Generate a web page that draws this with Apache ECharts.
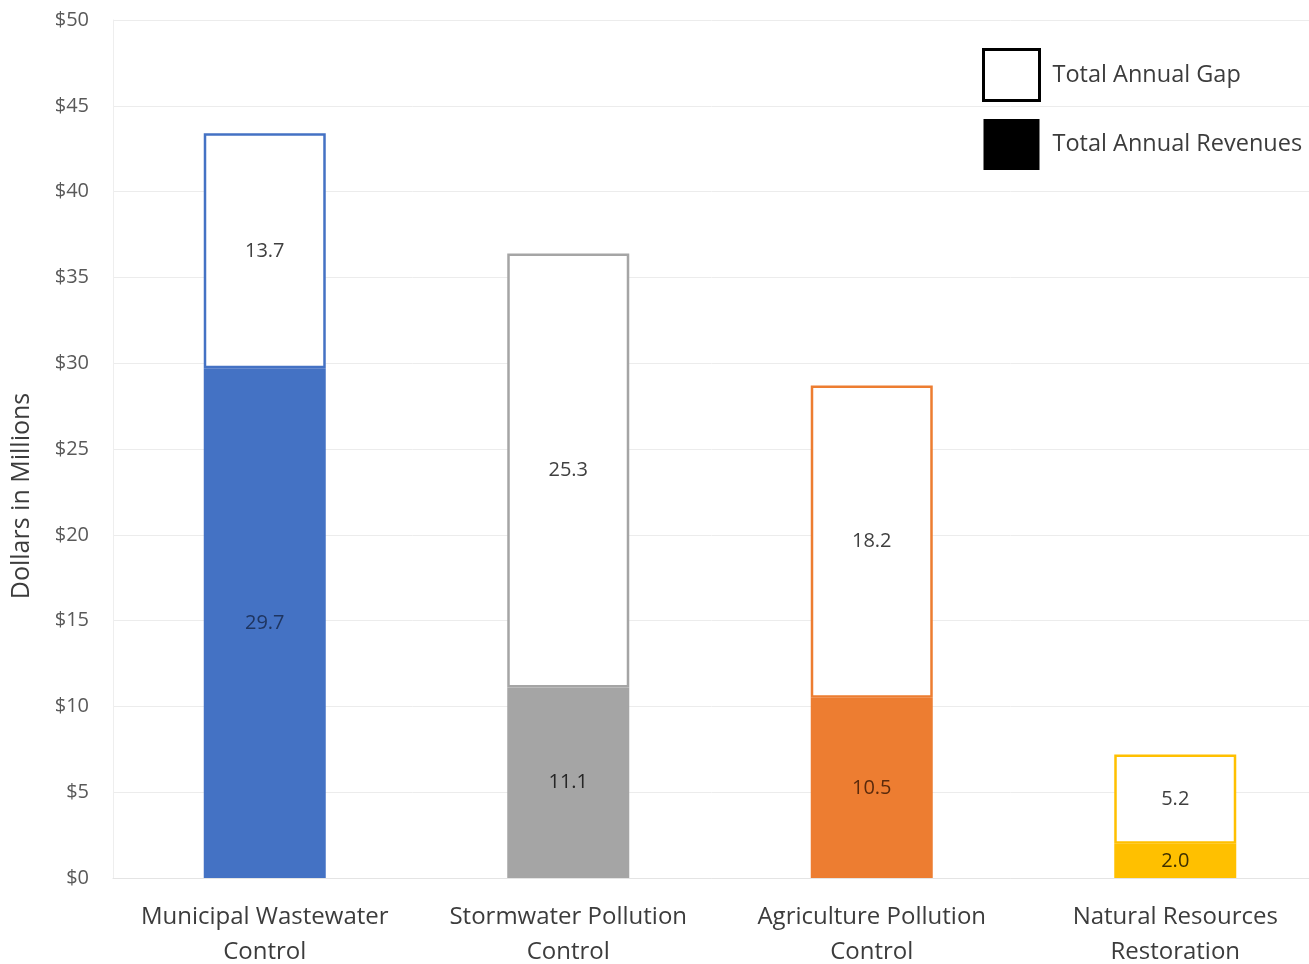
<!DOCTYPE html>
<html>
<head>
<meta charset="utf-8">
<script src="https://cdn.jsdelivr.net/npm/echarts@6/dist/echarts.min.js"></script>
<style>
  html, body { margin: 0; padding: 0; background: #fff; }
  #chart { width: 1309px; height: 964px; }
</style>
</head>
<body>
<div id="chart"></div>
<script>
// Program categories (two-line axis labels)
const categories = [
  'Municipal Wastewater\nControl',
  'Stormwater Pollution\nControl',
  'Agriculture Pollution\nControl',
  'Natural Resources\nRestoration'
];
// Annual revenues and remaining gap, in millions of dollars
const revenues = [29.7, 11.1, 10.5, 2.0];
const gaps = [13.7, 25.3, 18.2, 5.2];
// One colour per program
const programColors = ['#4472C4', '#A5A5A5', '#ED7D31', '#FFC000'];
const revenueLabelColors = ['#1f3560', '#262626', '#5a2a0c', '#3f3000'];

const FONT = '"Open Sans", Lato, sans-serif';

const chart = echarts.init(document.getElementById('chart'));
chart.setOption({
  animation: false,
  grid: { left: 113, right: -18, top: 20, bottom: 86, containLabel: false, outerBoundsMode: 'none' },
  legend: {
    orient: 'vertical',
    left: 982,
    top: 48,
    padding: 0,
    itemWidth: 56,
    itemHeight: 51,
    itemGap: 17,
    selectedMode: false,
    textStyle: { fontFamily: FONT, fontSize: 23.5, color: '#3c3c3c', padding: [0, 0, 0, 8] },
    data: [
      { name: 'Total Annual Gap', icon: 'rect', itemStyle: { color: '#ffffff', borderColor: '#000000', borderWidth: 3 } },
      { name: 'Total Annual Revenues', icon: 'rect', itemStyle: { color: '#000000', borderWidth: 0 } }
    ]
  },
  graphic: [{
    type: 'text',
    x: 22, y: 496,
    rotation: Math.PI / 2,
    style: {
      text: 'Dollars in Millions',
      font: '25px ' + FONT,
      fill: '#3c3c3c',
      align: 'center',
      verticalAlign: 'middle'
    }
  }],
  xAxis: {
    type: 'category',
    data: categories,
    axisLine: { show: true, lineStyle: { color: '#e4e4e4', width: 1 } },
    axisTick: { show: false },
    axisLabel: {
      fontFamily: FONT, fontSize: 24, color: '#3c3c3c',
      lineHeight: 35, margin: 22, interval: 0
    }
  },
  yAxis: {
    type: 'value',
    min: 0, max: 50, interval: 5,
    axisLine: { show: true, lineStyle: { color: '#eeeeee', width: 1 } },
    axisTick: { show: false },
    splitLine: { lineStyle: { color: '#ececec', width: 1 } },
    axisLabel: {
      fontFamily: FONT, fontSize: 20, color: '#595959', margin: 24,
      formatter: v => '$' + v
    }
  },
  series: [
    {
      name: 'Total Annual Revenues',
      type: 'bar',
      stack: 'total',
      barWidth: 122,
      data: revenues.map((v, i) => ({
        value: v,
        itemStyle: { color: programColors[i] },
        label: { color: revenueLabelColors[i] }
      })),
      label: {
        show: true, position: 'inside',
        fontFamily: FONT, fontSize: 20,
        formatter: p => p.value.toFixed(1)
      }
    },
    {
      name: 'Total Annual Gap',
      type: 'bar',
      stack: 'total',
      barWidth: 122,
      data: gaps.map((v, i) => ({
        value: v,
        itemStyle: { color: '#ffffff', borderColor: programColors[i], borderWidth: 2.5 }
      })),
      label: {
        show: true, position: 'inside',
        fontFamily: FONT, fontSize: 20, color: '#404040',
        formatter: p => p.value.toFixed(1)
      }
    }
  ]
});
</script>
</body>
</html>
